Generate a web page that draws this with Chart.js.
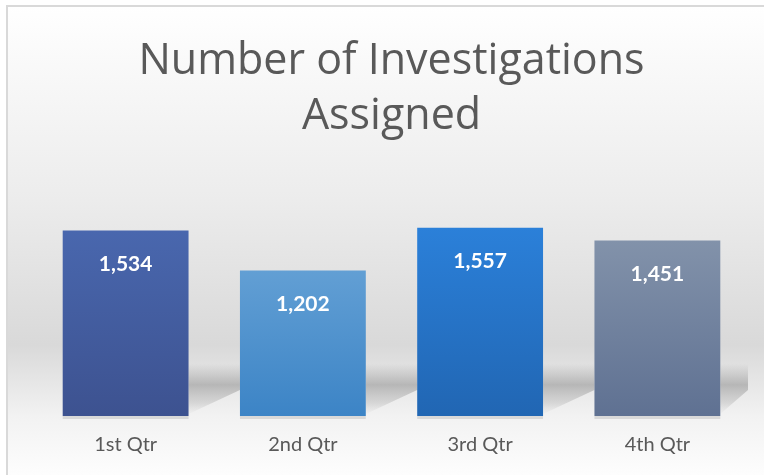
<!DOCTYPE html>
<html>
<head>
<meta charset="utf-8">
<script src="https://cdn.jsdelivr.net/npm/chart.js@4.4.1/dist/chart.umd.min.js"></script>
<style>
  html, body { margin: 0; padding: 0; background: #ffffff; }
  #wrap { width: 764px; height: 475px; position: relative; }
</style>
</head>
<body>
<div id="wrap"><canvas id="chart"></canvas></div>
<script>
/* ===============================
   DATA
================================ */
const quarters = ["1st Qtr", "2nd Qtr", "3rd Qtr", "4th Qtr"];
const investigations = [1534, 1202, 1557, 1451];
const barTopColors = ["#4967ae", "#629fd4", "#2b80d9", "#8292aa"];
const barBottomColors = ["#3d5290", "#3c84c6", "#2166b3", "#5f7192"];

/* ===============================
   HELPERS
================================ */
function barGradient(context) {
  const chart = context.chart;
  const i = context.dataIndex;
  const y = chart.scales.y;
  if (!chart.chartArea || !y) return barTopColors[i];
  const top = y.getPixelForValue(investigations[i]);
  const base = y.getPixelForValue(0);
  const g = chart.ctx.createLinearGradient(0, top, 0, base);
  g.addColorStop(0, barTopColors[i]);
  g.addColorStop(1, barBottomColors[i]);
  return g;
}

/* background wall, floor, border and bar shadows */
const backdrop = {
  id: "backdrop",
  beforeDraw(chart) {
    const { ctx, width, height } = chart;
    const base = chart.scales.y.getPixelForValue(0);
    ctx.save();
    const bg = ctx.createLinearGradient(0, 5, 0, height);
    bg.addColorStop(0, "#ffffff");
    bg.addColorStop((200 - 5) / (height - 5), "#ececec");
    bg.addColorStop((345 - 5) / (height - 5), "#d9d9d9");
    bg.addColorStop((base - 5) / (height - 5), "#f2f2f2");
    bg.addColorStop(1, "#fdfdfd");
    ctx.fillStyle = bg;
    ctx.fillRect(7, 5, width - 7, height - 5);

    // shadows behind bars
    const meta = chart.getDatasetMeta(0);
    meta.data.forEach((bar, i) => {
      const right = bar.x + bar.width / 2;
      const next = meta.data[i + 1];
      const end = next ? next.x - next.width / 2 : Math.min(right + 28, width - 16);
      const sg = ctx.createLinearGradient(0, base - 52, 0, base);
      sg.addColorStop(0, "rgba(150,150,150,0)");
      sg.addColorStop(0.4, "rgba(150,150,150,0.6)");
      sg.addColorStop(0.75, "rgba(170,170,170,0.35)");
      sg.addColorStop(1, "rgba(200,200,200,0)");
      ctx.fillStyle = sg;
      ctx.beginPath();
      ctx.moveTo(right, base - 52);
      ctx.lineTo(end, base - 52);
      ctx.lineTo(end, base - 26);
      ctx.lineTo(right, base - 2);
      ctx.closePath();
      ctx.fill();
      // thin light edge under bar
      ctx.fillStyle = "rgba(200,200,200,0.6)";
      ctx.fillRect(bar.x - bar.width / 2, base, bar.width, 3);
    });

    // frame
    ctx.fillStyle = "#d9d9d9";
    ctx.fillRect(6, 5, width - 6, 2);
    ctx.fillRect(6, 5, 2, height - 5);
    ctx.restore();
  }
};

/* value labels inside top of bars */
const valueLabels = {
  id: "valueLabels",
  afterDatasetsDraw(chart) {
    const { ctx } = chart;
    const meta = chart.getDatasetMeta(0);
    ctx.save();
    ctx.fillStyle = "#ffffff";
    ctx.font = "bold 21px Lato";
    ctx.textAlign = "center";
    ctx.textBaseline = "middle";
    meta.data.forEach((bar, i) => {
      ctx.fillText(investigations[i].toLocaleString("en-US"), bar.x, bar.y + 34);
    });
    ctx.restore();
  }
};

/* ===============================
   CHART
================================ */
new Chart(document.getElementById("chart"), {
  type: "bar",
  data: {
    labels: quarters,
    datasets: [
      {
        label: "Investigations",
        data: investigations,
        backgroundColor: barGradient,
        borderWidth: 0,
        barPercentage: 0.71,
        categoryPercentage: 1,
      },
    ],
  },
  options: {
    responsive: true,
    maintainAspectRatio: false,
    animation: false,
    layout: {
      padding: { left: 37, right: 18, top: 0, bottom: 1 },
    },
    plugins: {
      legend: { display: false },
      tooltip: { enabled: false },
      title: {
        display: true,
        text: ["Number of Investigations", "Assigned"],
        color: "#595959",
        font: { family: "Open Sans", size: 43, weight: "400", lineHeight: 1.28 },
        padding: { top: 34, bottom: 30 },
      },
    },
    scales: {
      x: {
        grid: { display: false, drawTicks: false },
        border: { display: false },
        ticks: {
          color: "#595959",
          font: { family: "Lato", size: 20 },
          padding: 17,
        },
      },
      y: {
        display: false,
        min: 0,
        max: 2000,
      },
    },
  },
  plugins: [backdrop, valueLabels],
});
</script>
</body>
</html>
